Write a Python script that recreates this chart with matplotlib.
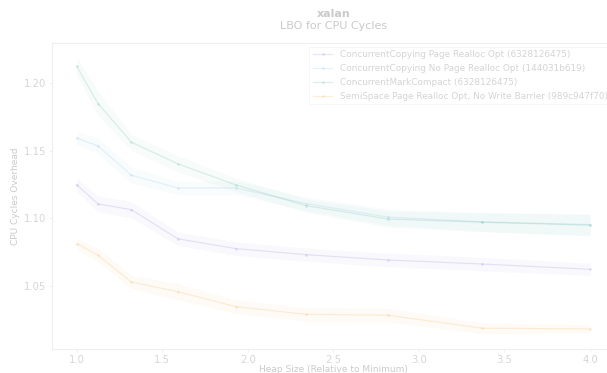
import matplotlib
matplotlib.use("Agg")
import matplotlib.pyplot as plt
import numpy as np

# heap size multipliers (relative to minimum heap)
HEAP = [1.0, 1.125, 1.32, 1.59, 1.93, 2.34, 2.82, 3.37, 4.0]

LABELS = [
    "ConcurrentCopying Page Realloc Opt (6328126475)",
    "ConcurrentCopying No Page Realloc Opt (144031b619)",
    "ConcurrentMarkCompact (6328126475)",
    "SemiSpace Page Realloc Opt, No Write Barrier (989c947f70)",
]

cc_realloc = [1.125, 1.1107, 1.1065, 1.085, 1.0777, 1.0732, 1.0693, 1.0663, 1.0624]
cc_norealloc = [1.1595, 1.1536, 1.132, 1.1226, 1.1226, 1.111, 1.101, 1.0975, 1.0955]
cmc = [1.2126, 1.185, 1.1564, 1.1405, 1.1248, 1.1095, 1.0996, 1.0972, 1.0950]
semispace = [1.0814, 1.0728, 1.053, 1.0459, 1.0348, 1.0291, 1.0284, 1.0188, 1.0183]

# half-width of the 95% interval at each heap size
cc_realloc_ci = [0.005, 0.006, 0.006, 0.005, 0.005, 0.005, 0.005, 0.005, 0.0045]
cc_norealloc_ci = [0.005, 0.006, 0.006, 0.005, 0.005, 0.005, 0.006, 0.007, 0.008]
cmc_ci = [0.007, 0.009, 0.006, 0.006, 0.005, 0.005, 0.006, 0.007, 0.008]
semispace_ci = [0.004, 0.005, 0.005, 0.006, 0.005, 0.005, 0.005, 0.004, 0.003]

SERIES = [cc_realloc, cc_norealloc, cmc, semispace]
CIS = [cc_realloc_ci, cc_norealloc_ci, cmc_ci, semispace_ci]
COLORS = ["#7468d0", "#70b4e0", "#3fa888", "#f0a030"]
FADE = 0.17
TXT = "#cacaca"

plt.rcParams.update({"font.family": "DejaVu Sans", "font.size": 6.5})

fig = plt.figure(figsize=(6.07, 3.73), dpi=100)
ax = fig.add_axes([0.0857, 0.0635, 0.927, 0.8212])

x = np.array(HEAP)
for ys, ci, c, lab in zip(SERIES, CIS, COLORS, LABELS):
    ys, ci = np.array(ys), np.array(ci)
    ax.fill_between(x, ys - ci, ys + ci, color=c, alpha=0.04, lw=0)
    ax.plot(x, ys, color=c, alpha=FADE, lw=0.9, marker="o", ms=2.0,
            mew=0, label=lab)

ax.set_xlim(0.856, 4.144)
ax.set_ylim(1.0032, 1.2298)
ax.set_xticks([1.0, 1.5, 2.0, 2.5, 3.0, 3.5, 4.0])
ax.set_yticks([1.05, 1.10, 1.15, 1.20])
ax.tick_params(colors="#eeeeee", labelcolor="#d6d6d6", length=2.5,
               width=0.6, pad=1.8, labelsize=7.2)
for s in ax.spines.values():
    s.set_color("#eeeeee")
    s.set_linewidth(0.8)

ax.set_xlabel("Heap Size (Relative to Minimum)", color=TXT, labelpad=-0.5)
ax.set_ylabel("CPU Cycles Overhead", color=TXT, labelpad=3)
ax.set_title("LBO for CPU Cycles", color=TXT, fontsize=8, pad=10)
ax.text(0.5, 1.0 + 24 / 306, "xalan", transform=ax.transAxes, ha="center",
        va="bottom", fontsize=8, fontweight="bold", color=TXT)

leg = ax.legend(loc="upper right", fontsize=6.4, frameon=True,
                borderaxespad=0.4, handlelength=2.2, labelspacing=0.55)
leg.get_frame().set_edgecolor("#f2f2f2")
leg.get_frame().set_linewidth(0.6)
for t in leg.get_texts():
    t.set_color("#d4d4d4")

fig.savefig("out.png", dpi=100)
